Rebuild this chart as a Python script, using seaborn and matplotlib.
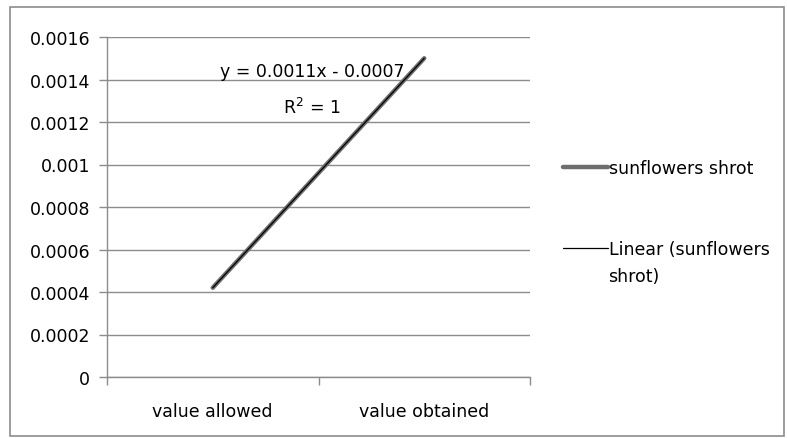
import matplotlib
matplotlib.use('Agg')
import matplotlib.pyplot as plt
import seaborn as sns
import pandas as pd
from matplotlib.patches import Rectangle
from matplotlib.lines import Line2D

# data
categories = ['value allowed', 'value obtained']
values = [0.00042, 0.0015]
y_ticks = [0, 0.0002, 0.0004, 0.0006, 0.0008, 0.001, 0.0012, 0.0014, 0.0016]
y_labels = ['0', '0.0002', '0.0004', '0.0006', '0.0008', '0.001', '0.0012', '0.0014', '0.0016']
series_name = 'sunflowers shrot'
trend_name = 'Linear (sunflowers'
trend_name_2 = 'shrot)'

sns.set_style('white')
plt.rcParams['font.family'] = ['DejaVu Sans']
plt.rcParams['font.size'] = 12.5
plt.rcParams['text.color'] = 'black'

df = pd.DataFrame({'cat': categories, 'pos': range(len(categories)), 'val': values})

fig = plt.figure(figsize=(7.87, 4.39), dpi=100)
ax = fig.add_axes([107 / 787, 1 - 378 / 439, (530 - 107) / 787, (378 - 38) / 439])

grid_col = '#8c8c8c'
data_col = '#6e6e6e'

sns.lineplot(data=df, x='pos', y='val', ax=ax, color=data_col, linewidth=3.2)
sns.regplot(data=df, x='pos', y='val', ax=ax, scatter=False, ci=None, truncate=True,
            line_kws={'color': 'black', 'linewidth': 0.9})

ax.set_xlim(-0.5, 1.5)
ax.set_ylim(0, 0.0016)
ax.set_yticks(y_ticks)
ax.set_yticklabels(y_labels)
ax.set_xticks(df['pos'])
ax.set_xticklabels(categories)
ax.set_xticks([-0.5, 0.5, 1.5], minor=True)
ax.tick_params(axis='x', which='major', length=0, pad=18, labelcolor='black')
ax.tick_params(axis='x', which='minor', bottom=True, length=6, width=1,
               color=grid_col, direction='out')
ax.tick_params(axis='y', length=6, width=1, color=grid_col, direction='out',
               left=True, pad=6, labelcolor='black')
ax.set_xlabel('')
ax.set_ylabel('')
ax.grid(axis='y', color=grid_col, linewidth=1)
ax.set_axisbelow(True)
for s in ['top', 'right']:
    ax.spines[s].set_visible(False)
for s in ['left', 'bottom']:
    ax.spines[s].set_color(grid_col)
    ax.spines[s].set_linewidth(1)

# trendline equation
ax.text(0.47, 0.00144, 'y = 0.0011x - 0.0007', ha='center', va='center')
ax.text(0.47, 0.00127, 'R$^2$ = 1', ha='center', va='center')

handles = [Line2D([], [], color=data_col, linewidth=3.2),
           Line2D([], [], color='black', linewidth=0.9)]
leg = fig.legend(handles, [series_name, trend_name], loc='upper left',
                 bbox_to_anchor=(563 / 787, 1 - 160 / 439), frameon=False,
                 handlelength=2.6, handletextpad=0.05, labelspacing=3.65,
                 borderaxespad=0, borderpad=0)
fig.text(608 / 787, 1 - 277 / 439, trend_name_2, ha='left', va='center')

# outer chart border
fig.patches.append(Rectangle((10 / 787, 2 / 439), 774 / 787, 429 / 439,
                             transform=fig.transFigure, fill=False,
                             edgecolor='#8c8c8c', linewidth=1.2))

fig.savefig('out.png', dpi=100)
